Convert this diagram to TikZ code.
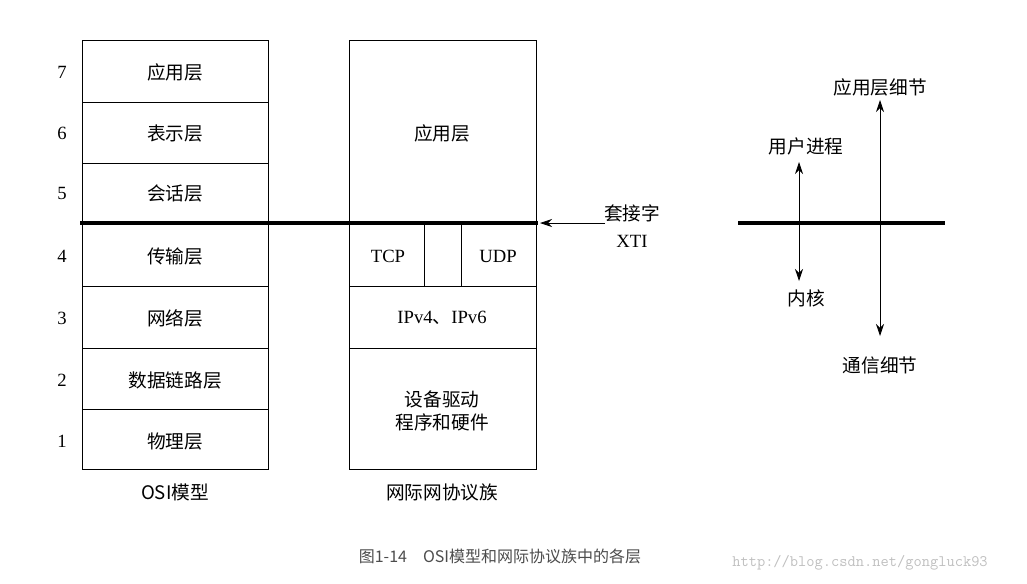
\documentclass[tikz,border=0pt]{standalone}
\usepackage{fontspec}
\newfontfamily\cjk{Noto Sans CJK SC}
\setmainfont{Liberation Serif}
\usetikzlibrary{arrows.meta}
\begin{document}
\begin{tikzpicture}[x=0.75pt,y=-0.75pt,line width=0.6pt,
  box/.style={draw},
  lbl/.style={font=\cjk\fontsize{14}{17}\selectfont},
  num/.style={font=\fontsize{14}{16}\selectfont},
  heavy/.style={line width=3pt},
  arr/.style={-{Stealth[length=9pt,width=6pt]}}]
\useasboundingbox (0,0) rectangle (1027,583);
% OSI
\draw[box] (82,40) rectangle (268,469);
\foreach \y in {102,163,286,348,409} \draw (82,\y)--(268,\y);
\foreach \t/\y/\n in {应用层/72/7,表示层/133/6,会话层/193/5,传输层/256/4,网络层/318/3,数据链路层/380/2,物理层/441/1}{
  \node[lbl] at (175,\y) {\t};
  \node[num] at (62,\y) {\n};}
\node[lbl] (osi) at (175,492) {OSI模型};
% Internet
\draw[box] (349,40) rectangle (536,469);
\draw (349,286)--(536,286) (349,348)--(536,348) (424,223)--(424,286) (461,223)--(461,286);
\node[lbl] (app) at (442,133) {应用层};
\node[num] (tcp) at (388,256) {TCP};
\node[num] (udp) at (498,256) {UDP};
\node[num] (ip) at (442,318) {IPv4{\cjk 、}IPv6};
\node[lbl,align=center] (drv) at (442,411) {设备驱动\\程序和硬件};
\node[lbl] (inet) at (442,492) {网际网协议族};
\draw[heavy] (80,223)--(538,223);
\coordinate (sockend) at (540,223);
\coordinate (sockstart) at (605,223);
\draw[arr] (sockstart)--(sockend);
\node[lbl] (sock) at (632,213) {套接字};
\node[num] (xti) at (632,241) {XTI};
% right
\draw[heavy] (738,223)--(945,223);
\coordinate (c1) at (799,223);
\coordinate (u1) at (799,162);
\coordinate (d1) at (799,281);
\draw[arr] (c1)--(u1); \draw[arr] (c1)--(d1);
\coordinate (c2) at (880,223);
\coordinate (u2) at (880,100);
\coordinate (d2) at (880,336);
\draw[arr] (c2)--(u2); \draw[arr] (c2)--(d2);
\node[lbl] (up) at (806,146) {用户进程};
\node[lbl] (kern) at (806,298) {内核};
\node[lbl] (appd) at (880,87) {应用层细节};
\node[lbl] (comm) at (880,365) {通信细节};
\node[font=\cjk\fontsize{12}{14}\selectfont,text=black!70] (cap) at (500,556) {图1-14\quad OSI模型和网际协议族中的各层};
\node[font=\ttfamily\fontsize{12}{14}\selectfont,text=black!25] (wm) at (860,563) {http://blog.csdn.net/gongluck93};
\end{tikzpicture}
\end{document}
